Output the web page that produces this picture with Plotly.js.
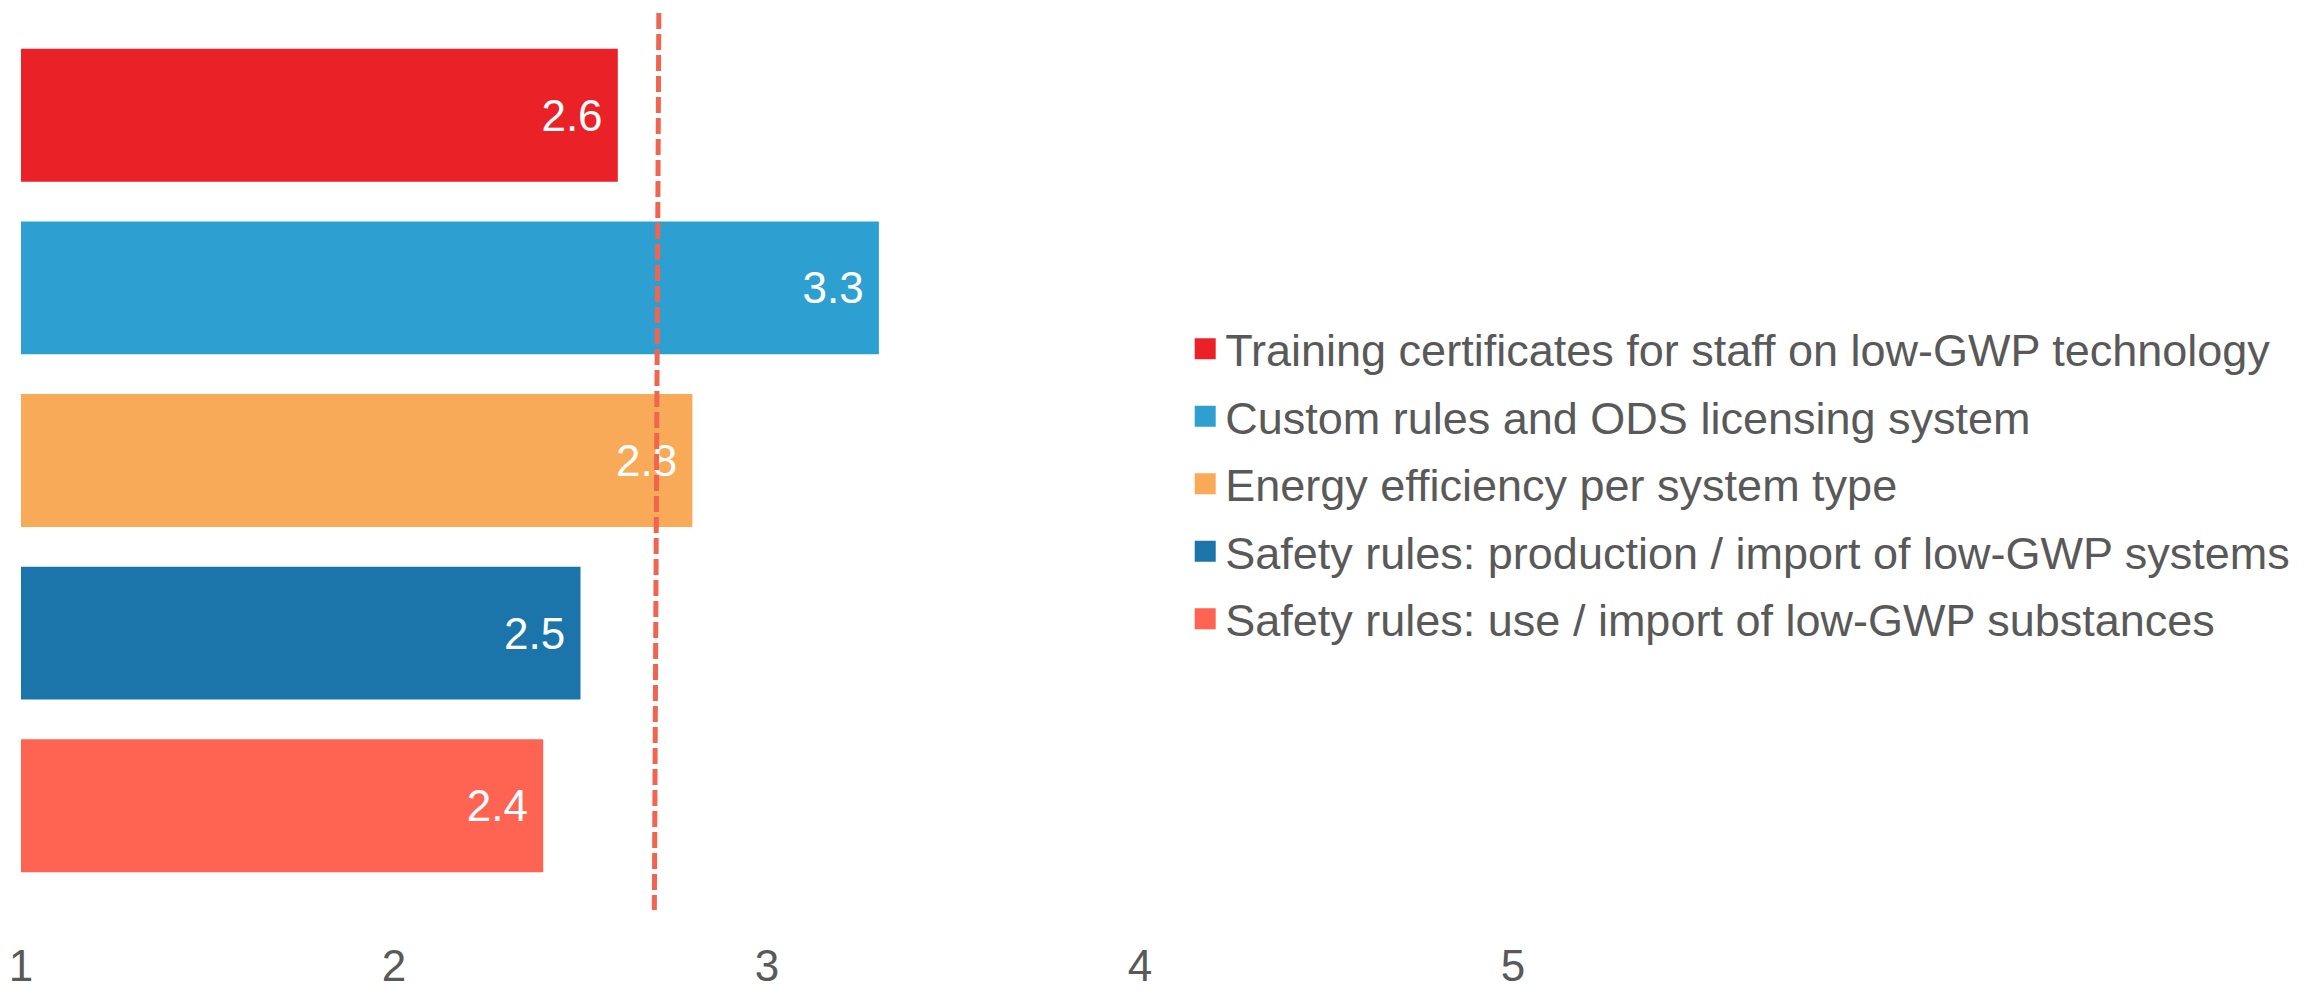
<!DOCTYPE html>
<html>
<head>
<meta charset="utf-8">
<script src="https://cdn.plot.ly/plotly-3.0.1.min.js"></script>
<style>html,body{margin:0;padding:0;background:#fff;}#chart{width:2315px;height:990px;}</style>
</head>
<body>
<div id="chart"></div>
<script>
const categories = [
  "Training certificates for staff on low-GWP technology",
  "Custom rules and ODS licensing system",
  "Energy efficiency per system type",
  "Safety rules: production / import of low-GWP systems",
  "Safety rules: use / import of low-GWP substances"
];
const values = [2.6, 3.3, 2.8, 2.5, 2.4];
const colors = ["#EA2228", "#2E9FD1", "#F9AA58", "#1B75AA", "#FF6352"];
const tickValues = [1, 2, 3, 4, 5];
const tickLabels = ["1", "2", "3", "4", "5"];
const referenceX = [2.71, 2.698];   // dashed reference line (top, bottom)

const FONT = "Liberation Sans, Arial, sans-serif";
const barTraces = categories.map((c, i) => ({
  type: "bar",
  orientation: "h",
  name: c,
  y: [c],
  x: [values[i]],
  width: 0.77,
  marker: {color: colors[i]},
  text: [values[i].toFixed(1) + "\u00a0"],
  textposition: "inside",
  insidetextanchor: "end",
  textangle: 0,
  textfont: {family: FONT, size: 44, color: "#ffffff"},
  hoverinfo: "x+name",
  legendgroup: "g" + i,
  showlegend: false
}));
// legend entries (larger square keys than the default bar key)
const legendTraces = categories.map((c, i) => ({
  type: "scatter",
  mode: "markers",
  name: c,
  x: [null],
  y: [null],
  marker: {symbol: "square", size: 16, color: colors[i], line: {color: colors[i], width: 5}},
  hoverinfo: "skip",
  legendgroup: "g" + i,
  showlegend: true
}));

const layout = {
  width: 2315, height: 990,
  margin: {l: 21, r: 802, t: 29, b: 98},
  paper_bgcolor: "#ffffff", plot_bgcolor: "#ffffff",
  barmode: "relative",
  font: {family: FONT, size: 44, color: "#595959"},
  xaxis: {
    range: [1, 5], tickvals: tickValues, ticktext: tickLabels,
    showgrid: false, zeroline: false, showline: false, ticks: "",
    tickfont: {family: FONT, size: 44, color: "#595959"},
    ticklabelstandoff: 44
  },
  yaxis: {
    type: "category", categoryorder: "array", categoryarray: categories,
    range: [4.5, -0.5], showticklabels: false, showgrid: false,
    zeroline: false, showline: false, ticks: ""
  },
  showlegend: true,
  legend: {
    x: 0.7803, y: 0.4728, xanchor: "left", yanchor: "middle",
    font: {family: FONT, size: 45, color: "#595959"},
    bgcolor: "rgba(0,0,0,0)", traceorder: "grouped", tracegroupgap: 6
  },
  shapes: [{
    type: "line", xref: "x", yref: "paper",
    x0: referenceX[0], x1: referenceX[1], y0: 1.0185, y1: -0.0209,
    line: {color: "#F0654F", width: 5, dash: "16px,5px"}
  }]
};

Plotly.newPlot("chart", barTraces.concat(legendTraces), layout, {displayModeBar: false, staticPlot: true});
</script>
</body>
</html>
